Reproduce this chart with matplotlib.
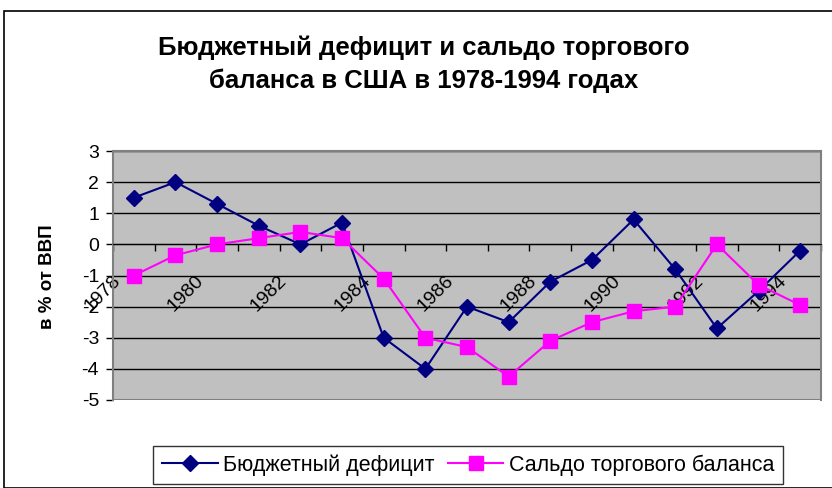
import numpy as np
import matplotlib
matplotlib.use("Agg")
import matplotlib.pyplot as plt
from matplotlib.lines import Line2D
from matplotlib.patches import Rectangle
from matplotlib.transforms import ScaledTranslation

plt.rcParams['font.family'] = ['Liberation Sans', 'DejaVu Sans']
plt.rcParams['axes.unicode_minus'] = False

years = list(range(1978, 1995))
budget = [1.5, 2.0, 1.3, 0.6, 0.0, 0.7, -3.0, -4.0, -2.0, -2.5, -1.2, -0.5, 0.8, -0.8, -2.7, -1.5, -0.2]
trade = [-1.0, -0.35, 0.0, 0.2, 0.4, 0.2, -1.1, -3.0, -3.3, -4.25, -3.1, -2.5, -2.15, -2.0, 0.0, -1.3, -1.95]
budget_name = "Бюджетный дефицит"
trade_name = "Сальдо торгового баланса"
title = "Бюджетный дефицит и сальдо торгового\nбаланса в США в 1978-1994 годах"
ylabel = "в % от ВВП"

W, H = 832, 488
fig = plt.figure(figsize=(W / 100, H / 100), dpi=100)

# outer chart frame (right/bottom edges fall outside the picture)
fig.patches.append(Rectangle((4 / W, 1 - 488 / H), 900 / W, (488 - 11) / H,
                             transform=fig.transFigure, fill=False,
                             edgecolor='black', linewidth=1.2))

ax = fig.add_axes([113 / W, 1 - 400 / H, (821 - 113) / W, (400 - 151) / H])
ax.set_facecolor('#C0C0C0')

x = np.arange(len(years))
ax.plot(x, budget, color='#000080', lw=1.5, marker='D', ms=8, zorder=3)
ax.plot(x, trade, color='#FF00FF', lw=1.5, marker='s', ms=9.5, zorder=4)

ax.set_xlim(-0.5, len(years) - 0.5)
ax.set_ylim(-5, 3)
ax.set_yticks(range(-5, 4))
ax.yaxis.grid(True, color='black', lw=1)
ax.set_axisbelow(True)

for s in ['top', 'right', 'left']:
    ax.spines[s].set_color('#808080')
    ax.spines[s].set_linewidth(1.5)
ax.spines['bottom'].set_position(('data', 0))
ax.spines['bottom'].set_color('black')

# bottom border of the plot area
ax.axhline(-5, color='#808080', lw=1.5, zorder=1)

ax.set_xticks(x[::2])
ax.set_xticklabels([str(y) for y in years[::2]], rotation=45, ha='right', va='top')
ax.set_xticks(np.arange(-0.5, len(years), 1), minor=True)
ax.tick_params(axis='x', which='major', length=0, pad=20, labelsize=14)
ax.tick_params(axis='x', which='minor', length=5, width=1, direction='out', color='black')
ax.tick_params(axis='y', length=5, width=1, color='black', labelsize=14, pad=5)
for lab in ax.get_xticklabels():
    lab.set_transform(lab.get_transform() + ScaledTranslation(-10 / 100, 0, fig.dpi_scale_trans))

fig.text(48 / W, 1 - 277 / H, ylabel, rotation=90, ha='center', va='center',
         fontsize=13.5, fontweight='bold')
fig.text(424 / W, 1 - 64 / H, title, ha='center', va='center',
         fontsize=18.5, fontweight='bold', linespacing=1.45)

handles = [Line2D([], [], color='#000080', lw=1.5, marker='D', ms=8),
           Line2D([], [], color='#FF00FF', lw=1.5, marker='s', ms=9.5)]
leg = fig.legend(handles, [budget_name, trade_name], ncol=2, loc='center',
                 bbox_to_anchor=(468 / W, 1 - 465 / H), fontsize=15.5,
                 frameon=True, fancybox=False, edgecolor='black',
                 handlelength=2.6, handletextpad=0.25, columnspacing=0.6,
                 borderpad=0.4)
leg.get_frame().set_linewidth(1)

fig.savefig("out.png", dpi=100)
